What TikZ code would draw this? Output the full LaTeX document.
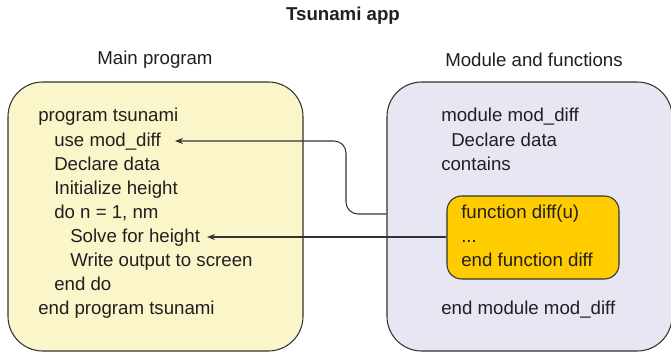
\documentclass[tikz,border=0pt]{standalone}
\usepackage{fontspec}
\setmainfont{Liberation Sans}
\usetikzlibrary{arrows.meta}
\definecolor{inkgray}{HTML}{333333}
\definecolor{textgray}{HTML}{231F20}
\definecolor{mainfill}{HTML}{FAF6C9}
\definecolor{modfill}{HTML}{E7E6F2}
\definecolor{funcfill}{HTML}{FFCC00}
\begin{document}
\begin{tikzpicture}[x=0.75pt,y=-0.75pt,
  panel/.style={draw=inkgray, line width=0.8pt, rounded corners=26pt, inner sep=0pt},
  funcbox/.style={draw=inkgray, line width=0.8pt, fill=funcfill, rounded corners=11pt, inner sep=0pt},
  code/.style={anchor=base west, inner sep=0pt, text=textgray, font=\fontsize{14}{17}\selectfont},
  heading/.style={inner sep=0pt, text=textgray, font=\fontsize{14}{17}\selectfont},
  link/.style={draw=inkgray, line width=0.8pt, rounded corners=9pt, -{Stealth[length=6pt,width=4.5pt]}}]
\useasboundingbox (0,0) rectangle (671,353);
\fill[white] (0,0) rectangle (671,353);

% headings
\node[heading, font=\fontsize{14}{17}\selectfont\bfseries] (title) at (343,16) {Tsunami app};
\node[heading] (mainhead) at (155,60) {Main program};
\node[heading] (modhead) at (534,60) {Module and functions};

% panels
\node[panel, fill=mainfill, minimum width=221.25pt, minimum height=201.75pt] (main) at (155.5,216.5) {};
\node[panel, fill=modfill, minimum width=213.75pt, minimum height=201.75pt] (mod) at (529.5,216.5) {};
\node[funcbox, minimum width=129pt, minimum height=62.25pt] (func) at (533,237.5) {};

% main program listing
\node[code] (l1) at (38,122) {program tsunami};
\node[code] (l2) at (54,146) {use mod\_diff};
\node[code] (l3) at (54,170) {Declare data};
\node[code] (l4) at (54,194) {Initialize height};
\node[code] (l5) at (54,218) {do n = 1, nm};
\node[code] (l6) at (70,242) {Solve for height};
\node[code] (l7) at (70,266) {Write output to screen};
\node[code] (l8) at (54,290) {end do};
\node[code] (l9) at (38,314) {end program tsunami};

% module listing
\node[code] (m1) at (441,122) {module mod\_diff};
\node[code] (m2) at (451,146) {Declare data};
\node[code] (m3) at (441,170) {contains};
\node[code] (f1) at (461,218) {function diff(u)};
\node[code] (f2) at (461,242) {...};
\node[code] (f3) at (461,266) {end function diff};
\node[code] (m4) at (441,314) {end module mod\_diff};

% connectors
\coordinate (useend) at (175,141);
\coordinate (solveend) at (207,237);
\draw[link] (mod.west |- 0,214) -- (346,214) -- (346,141) -- (useend);
\draw[link] (func.west |- solveend) -- (solveend);
\end{tikzpicture}
\end{document}
